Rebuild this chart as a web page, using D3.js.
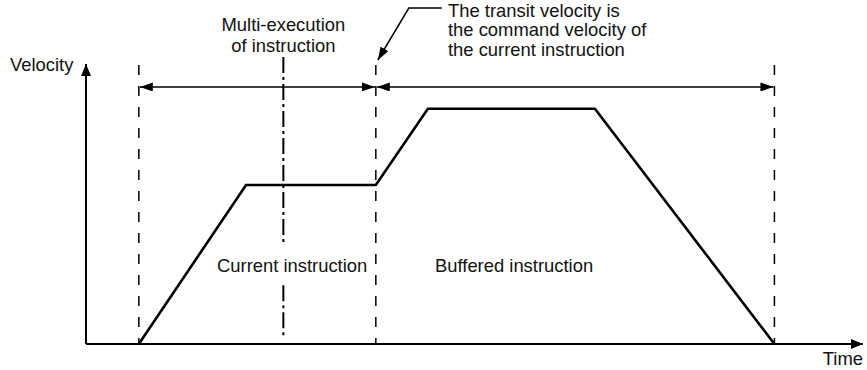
<!DOCTYPE html>
<html><head><meta charset="utf-8">
<script src="https://cdn.jsdelivr.net/npm/d3@7"></script>
<style>
html,body{margin:0;padding:0;background:#fff;}
svg{display:block;font-family:"Liberation Sans",Arial,sans-serif;}
</style></head><body>
<script>
// ---- data (time / velocity in arbitrary units) ----
const profileTime = [6.8, 20.6, 37.3, 44.0, 65.5, 88.6];
const profileVel  = [0, 56.8, 56.8, 84, 84, 0];
const boundaryTimes = [6.8, 37.3, 88.6];      // dashed instruction boundaries
const multiExecTime = 25.4;                    // dash-dot line
const multiExecSegments = [[102.5, 35.5], [21, 1.8]]; // dash-dot pieces (gap around label)
const spanLevel = 91.8;                        // double arrow level
const axisLabels = ["Velocity", "Time"];
const topNote = ["Multi-execution", "of instruction"];
const transitNote = ["The transit velocity is", "the command velocity of", "the current instruction"];
const regionLabels = ["Current instruction", "Buffered instruction"];

const W = 867, H = 370;
const x = d3.scaleLinear().domain([0, 100]).range([86, 863]);
const y = d3.scaleLinear().domain([0, 100]).range([344, 64]);

const svg = d3.select("body").append("svg").attr("width", W).attr("height", H);
const defs = svg.append("defs");
function marker(id, len, wid) {
  defs.append("marker").attr("id", id)
    .attr("viewBox", `0 0 ${len} ${wid}`).attr("refX", len).attr("refY", wid/2)
    .attr("markerWidth", len).attr("markerHeight", wid)
    .attr("markerUnits", "userSpaceOnUse").attr("orient", "auto-start-reverse")
    .append("path").attr("d", `M0,0L${len},${wid/2}L0,${wid}Z`).attr("fill", "#000");
}
marker("ah", 13, 9);
marker("ax", 12, 10);

// axes
svg.append("line").attr("x1", x(0)).attr("y1", y(0)).attr("x2", x(100)).attr("y2", y(0))
  .attr("stroke", "#000").attr("stroke-width", 2).attr("marker-end", "url(#ax)");
svg.append("line").attr("x1", x(0)).attr("y1", y(0)).attr("x2", x(0)).attr("y2", y(100))
  .attr("stroke", "#000").attr("stroke-width", 2).attr("marker-end", "url(#ax)");

// dashed boundaries
svg.selectAll("line.bnd").data(boundaryTimes).join("line").attr("class", "bnd")
  .attr("x1", d => x(d)).attr("x2", d => x(d)).attr("y1", y(99.6)).attr("y2", y(0))
  .attr("stroke", "#000").attr("stroke-width", 1.5).attr("stroke-dasharray", "10,11");

// dash-dot line
svg.selectAll("line.md").data(multiExecSegments).join("line").attr("class", "md")
  .attr("x1", x(multiExecTime)).attr("x2", x(multiExecTime))
  .attr("y1", d => y(d[0])).attr("y2", d => y(d[1]))
  .attr("stroke", "#000").attr("stroke-width", 2).attr("stroke-dasharray", "16,4,3,4");

// double arrows
for (let i = 0; i < boundaryTimes.length - 1; i++) {
  svg.append("line").attr("x1", x(boundaryTimes[i]) + 1).attr("x2", x(boundaryTimes[i+1]) - 1)
    .attr("y1", y(spanLevel)).attr("y2", y(spanLevel))
    .attr("stroke", "#000").attr("stroke-width", 1.5)
    .attr("marker-start", "url(#ah)").attr("marker-end", "url(#ah)");
}

// velocity profile
const pts = profileTime.map((t, i) => [t, profileVel[i]]);
svg.append("path").datum(pts)
  .attr("d", d3.line().x(d => x(d[0])).y(d => y(d[1])))
  .attr("fill", "none").attr("stroke", "#000").attr("stroke-width", 2.6).attr("stroke-linejoin", "miter");

// leader arrow for transit note
const bx = x(boundaryTimes[1]);
const lead = [[bx + 66, 8], [bx + 33, 8], [bx + 2, 60]];
svg.append("path").attr("d", d3.line()(lead)).attr("fill", "none")
  .attr("stroke", "#000").attr("stroke-width", 1.5).attr("marker-end", "url(#ah)");

const fs = 18.4;
const txt = (s, px, py, anchor) => svg.append("text").attr("x", px).attr("y", py)
  .attr("text-anchor", anchor || "start").attr("font-size", fs).attr("fill", "#111").text(s);

txt(axisLabels[0], 10, 71);
txt(axisLabels[1], 863, 365, "end");
topNote.forEach((s, i) => txt(s, x(multiExecTime), 30.5 + i * 21.5, "middle"));
transitNote.forEach((s, i) => txt(s, 448, 16.5 + i * 19.5, "start"));
txt(regionLabels[0], 217, 272);
txt(regionLabels[1], 435, 272);
</script>
</body></html>
